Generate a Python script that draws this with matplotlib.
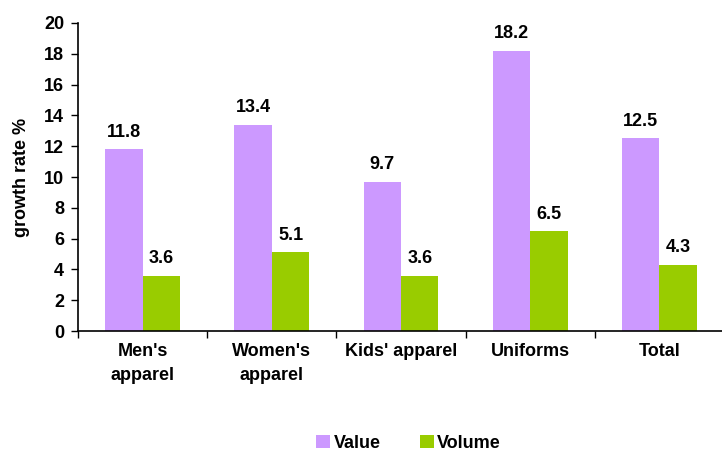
import matplotlib
matplotlib.use("Agg")
import matplotlib.pyplot as plt
import numpy as np

plt.rcParams['font.family'] = ['Liberation Sans', 'DejaVu Sans']
plt.rcParams['font.weight'] = 'bold'

categories = ["Men's\napparel", "Women's\napparel", "Kids' apparel", "Uniforms", "Total"]
value = [11.8, 13.4, 9.7, 18.2, 12.5]
volume = [3.6, 5.1, 3.6, 6.5, 4.3]
yticks = [0, 2, 4, 6, 8, 10, 12, 14, 16, 18, 20]

purple = '#CC99FF'
green = '#99CC00'

fig = plt.figure(figsize=(7.22, 4.57), dpi=100)
ax = fig.add_axes([78/722, 126/457, 646/722, (331-23)/457])

x = np.arange(len(categories))
w = 0.29
b1 = ax.bar(x - w/2, value, w, color=purple, label='Value')
b2 = ax.bar(x + w/2, volume, w, color=green, label='Volume')

for bars, vals in ((b1, value), (b2, volume)):
    for r, v in zip(bars, vals):
        ax.annotate(f"{v:.1f}", (r.get_x() + r.get_width()/2, v), xytext=(0, 6),
                    textcoords='offset points', ha='center', va='bottom',
                    fontsize=13, fontweight='bold')

ax.set_xlim(-0.5, len(categories) - 0.5)
ax.set_ylim(0, 20)
ax.set_yticks(yticks)
ax.set_yticklabels([str(t) for t in yticks], fontsize=13, fontweight='bold')
ax.set_xticks(np.arange(len(categories) + 1) - 0.5)
ax.set_xticklabels([])
ax.set_xticks(x, minor=True)
ax.set_xticklabels(categories, minor=True, fontsize=13, fontweight='bold', linespacing=1.5)
ax.tick_params(axis='x', which='minor', length=0, pad=9)
ax.tick_params(axis='x', which='major', length=5, direction='out', width=1)
ax.tick_params(axis='y', length=5, direction='out', width=1, pad=5)
ax.set_ylabel('growth rate %', fontsize=13, fontweight='bold', labelpad=10)

for s in ['top', 'right']:
    ax.spines[s].set_visible(False)
for s in ['left', 'bottom']:
    ax.spines[s].set_linewidth(1.2)

fig.legend(handles=[b1, b2], loc='center', bbox_to_anchor=(0.566, 0.03), ncol=2,
           frameon=False, handlelength=0.75, handleheight=0.75,
           handletextpad=0.2, columnspacing=2.2, prop={'weight': 'bold', 'size': 13})

fig.savefig('out.png', dpi=100)
